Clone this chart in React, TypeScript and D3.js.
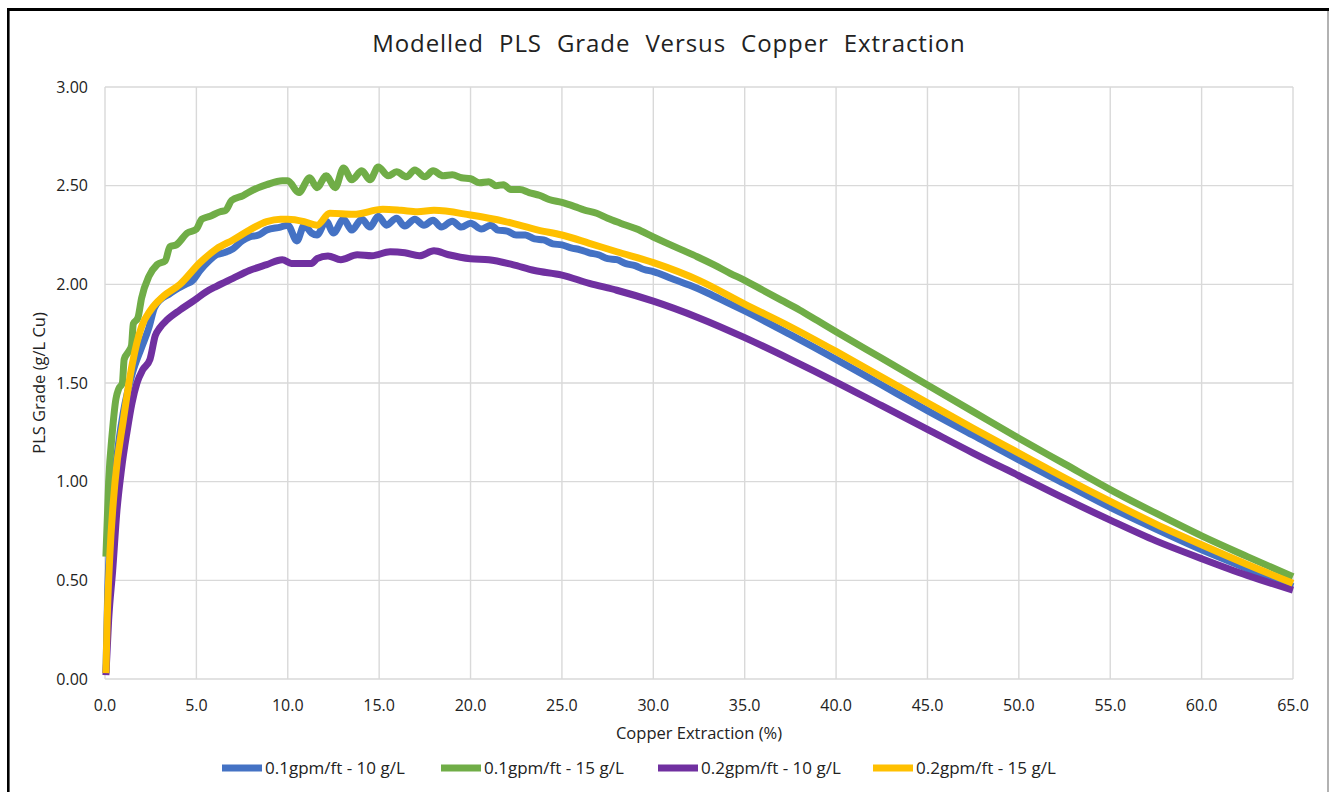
import React from 'react';
import * as d3 from 'd3';

const chartTitle = 'Modelled PLS Grade Versus Copper Extraction';
const xAxisTitle = 'Copper Extraction (%)';
const yAxisTitle = 'PLS Grade (g/L Cu)';
const xTicks = [0, 5, 10, 15, 20, 25, 30, 35, 40, 45, 50, 55, 60, 65];
const yTicks = [0, 0.5, 1.0, 1.5, 2.0, 2.5, 3.0];
const seriesNames = ['0.1gpm/ft - 10 g/L', '0.1gpm/ft - 15 g/L', '0.2gpm/ft - 10 g/L', '0.2gpm/ft - 15 g/L'];
const seriesColors = ['#4472C4', '#70AD47', '#7030A0', '#FFC000'];

const blue: [number, number][] = [[0.05,0.03],[0.15,0.45],[0.3,0.75],[0.5,1.0],[0.75,1.2],[1.0,1.35],[1.5,1.55],[2.0,1.68],[2.4,1.78],[2.7,1.88],[3.0,1.92],[3.5,1.95],[4.0,1.98],[4.4,2.0],[4.8,2.02],[5.2,2.07],[5.7,2.12],[6.1,2.15],[6.5,2.16],[7.0,2.18],[7.5,2.22],[7.9,2.24],[8.4,2.25],[8.85,2.275],[9.6,2.29],[10.0,2.30],[10.5,2.22],[10.9,2.30],[11.3,2.26],[11.6,2.25],[12.1,2.32],[12.5,2.26],[13.05,2.33],[13.5,2.275],[14.05,2.33],[14.5,2.29],[14.95,2.345],[15.4,2.30],[15.95,2.335],[16.4,2.295],[16.95,2.33],[17.45,2.30],[17.95,2.325],[18.4,2.29],[19.0,2.32],[19.5,2.29],[20.0,2.31],[20.6,2.28],[21.1,2.30],[21.5,2.275],[22.0,2.27],[22.5,2.25],[23.0,2.25],[23.5,2.23],[24.0,2.225],[24.5,2.205],[25.0,2.20],[25.5,2.185],[26.0,2.175],[26.5,2.16],[27.0,2.15],[27.5,2.13],[28.0,2.125],[28.5,2.105],[29.0,2.095],[29.5,2.075],[30.0,2.065],[31.0,2.03],[32.0,1.995],[33.0,1.955],[34.0,1.91],[35.0,1.865],[37.5,1.745],[40,1.62],[42.5,1.49],[45,1.36],[47.5,1.235],[50,1.11],[52.5,0.99],[55,0.87],[57.5,0.76],[60,0.655],[62.5,0.56],[65,0.467]];

const green: [number, number][] = [[0.05,0.62],[0.2,1.0],[0.4,1.25],[0.6,1.42],[0.75,1.47],[0.95,1.5],[1.05,1.62],[1.3,1.66],[1.45,1.69],[1.55,1.8],[1.8,1.83],[2.0,1.93],[2.4,2.04],[2.85,2.10],[3.3,2.12],[3.55,2.19],[3.9,2.2],[4.5,2.26],[5.0,2.28],[5.3,2.33],[5.75,2.345],[6.3,2.368],[6.6,2.375],[6.93,2.425],[7.56,2.45],[8.1,2.478],[8.85,2.505],[9.7,2.525],[10.0,2.525],[10.6,2.465],[11.2,2.54],[11.6,2.49],[12.1,2.55],[12.6,2.49],[13.05,2.59],[13.5,2.53],[14.05,2.575],[14.5,2.53],[14.95,2.595],[15.5,2.55],[15.95,2.57],[16.5,2.545],[16.95,2.58],[17.5,2.545],[17.95,2.575],[18.5,2.55],[19.0,2.555],[19.5,2.54],[20.0,2.535],[20.5,2.515],[21.0,2.52],[21.4,2.5],[21.8,2.505],[22.2,2.48],[22.7,2.48],[23.2,2.465],[23.8,2.45],[24.3,2.43],[25.0,2.415],[25.7,2.394],[26.2,2.377],[26.9,2.36],[27.5,2.335],[28.2,2.31],[29.1,2.28],[30.0,2.24],[30.7,2.21],[31.5,2.177],[32.4,2.14],[33.3,2.1],[34.2,2.056],[35.0,2.02],[36.0,1.97],[37.0,1.92],[38.0,1.87],[39.0,1.815],[40.0,1.76],[42.5,1.625],[45,1.49],[47.5,1.355],[50,1.22],[52.5,1.09],[55,0.96],[57.5,0.84],[60,0.725],[62.5,0.62],[65,0.518]];

const purple: [number, number][] = [[0.05,0.02],[0.2,0.3],[0.42,0.55],[0.65,0.85],[0.9,1.06],[1.2,1.25],[1.48,1.40],[1.75,1.5],[2.06,1.566],[2.46,1.62],[2.75,1.74],[3.0,1.78],[3.4,1.82],[4.1,1.87],[4.9,1.92],[5.5,1.96],[6.1,1.99],[7.0,2.03],[7.9,2.07],[8.85,2.1],[9.7,2.125],[10.2,2.106],[11.3,2.106],[11.6,2.13],[12.2,2.144],[12.9,2.125],[13.8,2.15],[14.6,2.145],[15.6,2.165],[16.4,2.16],[17.2,2.145],[18.0,2.17],[18.8,2.15],[20.0,2.13],[21.0,2.125],[22.3,2.1],[23.5,2.07],[25,2.047],[26.5,2.005],[28,1.97],[30,1.915],[32.5,1.83],[35,1.73],[37.5,1.62],[40,1.505],[42.5,1.385],[45,1.265],[47.5,1.145],[50,1.03],[52.5,0.915],[55,0.805],[57.5,0.70],[60,0.61],[62.5,0.525],[65,0.45]];

const yellow: [number, number][] = [[0.05,0.03],[0.12,0.3],[0.25,0.6],[0.55,1.0],[1.0,1.31],[1.5,1.6],[2.0,1.785],[2.5,1.87],[3.2,1.94],[4.1,2.0],[5.2,2.11],[6.1,2.18],[7.0,2.225],[7.9,2.275],[8.85,2.318],[9.6,2.33],[10.0,2.33],[10.9,2.318],[11.6,2.30],[12.3,2.36],[13.6,2.355],[15.2,2.38],[16.2,2.375],[17.1,2.368],[18.0,2.375],[20.0,2.351],[21.9,2.318],[23.7,2.275],[25,2.25],[26.5,2.208],[28,2.165],[30,2.11],[32.5,2.02],[35,1.90],[37.5,1.785],[40,1.66],[42.5,1.53],[45,1.40],[47.5,1.27],[50,1.145],[52.5,1.02],[55,0.90],[57.5,0.785],[60,0.68],[62.5,0.58],[65,0.485]];

const seriesData = [blue, green, purple, yellow];

const W = 1329;
const H = 792;
const FONT = '"Open Sans", "Liberation Sans", sans-serif';

export default function App() {
  const x = d3.scaleLinear().domain([0, 65]).range([105, 1293]);
  const y = d3.scaleLinear().domain([0, 3]).range([679, 87]);
  const line = d3
    .line<[number, number]>()
    .x((d) => x(d[0]))
    .y((d) => y(d[1]))
    .curve(d3.curveMonotoneX);

  const legendX = [222, 441, 658, 873];

  return (
    <svg width={W} height={H} style={{ position: 'absolute', left: 0, top: 0, background: '#fff' }}>
      <rect x={0} y={0} width={W} height={H} fill="#fff" />
      {/* frame */}
      <line x1={8} x2={W} y1={9.5} y2={9.5} stroke="#000" strokeWidth={3} />
      <line x1={8.3} x2={8.3} y1={8} y2={H} stroke="#000" strokeWidth={2.6} />
      <line x1={1328} x2={1328} y1={11} y2={H} stroke="#7f7f7f" strokeWidth={1.2} />

      <text x={669} y={52} textAnchor="middle" fontFamily={FONT} fontSize={24} fill="#222" letterSpacing={0.9} wordSpacing={8}>
        {chartTitle}
      </text>

      {/* grid */}
      {yTicks.map((t) => (
        <line key={'gy' + t} x1={x(0)} x2={x(65)} y1={y(t)} y2={y(t)} stroke="#d9d9d9" strokeWidth={1.4} />
      ))}
      {xTicks.map((t) => (
        <line key={'gx' + t} x1={x(t)} x2={x(t)} y1={y(0)} y2={y(3)} stroke="#d9d9d9" strokeWidth={1.4} />
      ))}

      {/* tick labels */}
      {yTicks.map((t) => (
        <text key={'ty' + t} x={88} y={y(t) + 5.5} textAnchor="end" fontFamily={FONT} fontSize={16} fill="#222">
          {d3.format('.2f')(t)}
        </text>
      ))}
      {xTicks.map((t) => (
        <text key={'tx' + t} x={x(t)} y={711} textAnchor="middle" fontFamily={FONT} fontSize={16} fill="#222">
          {d3.format('.1f')(t)}
        </text>
      ))}

      <text x={699} y={739} textAnchor="middle" fontFamily={FONT} fontSize={16.5} fill="#222">
        {xAxisTitle}
      </text>
      <text
        transform={`translate(45, ${y(1.5)}) rotate(-90)`}
        textAnchor="middle"
        fontFamily={FONT}
        fontSize={16.5}
        fill="#222"
      >
        {yAxisTitle}
      </text>

      {/* series */}
      {seriesData.map((data, i) => (
        <path
          key={'s' + i}
          d={line(data) || ''}
          fill="none"
          stroke={seriesColors[i]}
          strokeWidth={7}
          strokeLinejoin="round"
          strokeLinecap="butt"
        />
      ))}

      {/* legend */}
      {seriesNames.map((n, i) => (
        <g key={'l' + i}>
          <line x1={legendX[i]} x2={legendX[i] + 40} y1={768} y2={768} stroke={seriesColors[i]} strokeWidth={7} />
          <text x={legendX[i] + 43} y={774} fontFamily={FONT} fontSize={17} fill="#222">
            {n}
          </text>
        </g>
      ))}
    </svg>
  );
}
